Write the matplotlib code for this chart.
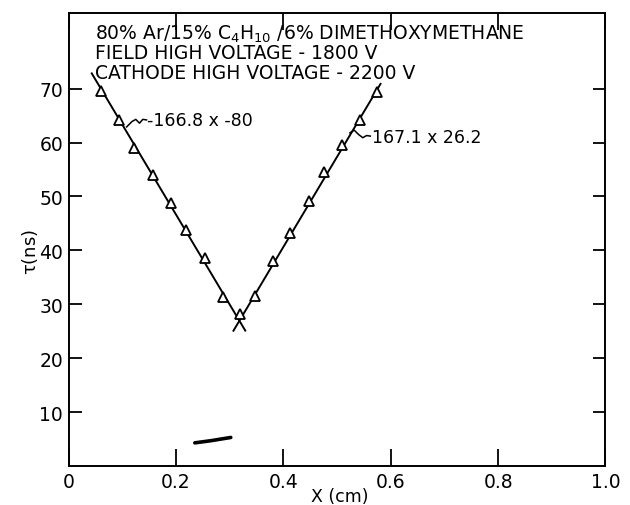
import numpy as np
import matplotlib
matplotlib.use("Agg")
import matplotlib.pyplot as plt

# measured drift times, left and right of the wire
x_left = [0.060, 0.093, 0.122, 0.158, 0.190, 0.219, 0.254, 0.287, 0.319]
tau_left = [69.6, 64.2, 59.0, 53.9, 48.7, 43.7, 38.6, 31.3, 28.2]
x_right = [0.348, 0.380, 0.413, 0.447, 0.476, 0.509, 0.542, 0.575]
tau_right = [31.6, 38.0, 43.3, 49.2, 54.5, 59.5, 64.1, 69.4]

# fitted lines: tau = slope * x + offset
fit_left = (-166.8, 80.0)
fit_right = (167.1, -26.2)
fit_left_range = [0.043, 0.329]
fit_right_range = [0.307, 0.581]

header = [r"80% Ar/15% C$_{\mathregular{4}}$H$_{\mathregular{10}}$ /6% DIMETHOXYMETHANE",
          "FIELD HIGH VOLTAGE - 1800 V",
          "CATHODE HIGH VOLTAGE - 2200 V"]

xticks = [0, 0.2, 0.4, 0.6, 0.8, 1.0]
xticklabels = ["0", "0.2", "0.4", "0.6", "0.8", "1.0"]
yticks = [10, 20, 30, 40, 50, 60, 70]

plt.rcParams["font.family"] = "DejaVu Sans"
plt.rcParams["mathtext.default"] = "regular"

fig = plt.figure(figsize=(6.3, 5.06), dpi=100)
ax = fig.add_axes([0.109, 0.077, 0.852, 0.895])
ax.set_xlim(0, 1.0)
ax.set_ylim(0, 84)

for (m, b), rng in [(fit_left, fit_left_range), (fit_right, fit_right_range)]:
    xx = np.array(rng)
    ax.plot(xx, m * xx + b, color="black", lw=1.4)

ax.plot(x_left, tau_left, ls="none", marker="^", ms=6.5, mfc="white",
        mec="black", mew=1.3)
ax.plot(x_right, tau_right, ls="none", marker="^", ms=6.5, mfc="white",
        mec="black", mew=1.3)

# labels for the fits with little squiggly leaders
ax.text(0.145, 64.1, "-166.8 x -80", fontsize=12.5, va="center", ha="left")
ax.plot([0.108, 0.118, 0.125, 0.132, 0.138, 0.145],
        [62.9, 63.9, 64.3, 63.6, 64.3, 64.2], color="black", lw=1.1)
ax.text(0.565, 61.1, "167.1 x 26.2", fontsize=12.5, va="center", ha="left")
ax.plot([0.524, 0.532, 0.540, 0.548, 0.555, 0.562],
        [61.8, 62.3, 61.5, 60.9, 61.3, 61.2], color="black", lw=1.1)

# scan smudge near the bottom
ax.plot([0.235, 0.265, 0.302], [4.3, 4.7, 5.3], color="black", lw=2.6,
        solid_capstyle="round")

header_y = [0.956, 0.913, 0.870]
for line, yy in zip(header, header_y):
    ax.text(0.049, yy, line, transform=ax.transAxes,
            fontsize=13.5, va="center", ha="left")

ax.set_xticks(xticks)
ax.set_xticklabels(xticklabels)
ax.set_yticks(yticks)
ax.tick_params(axis="both", direction="in", labelsize=13.5, width=1.3, pad=4)
ax.tick_params(axis="y", length=9, right=True)
ax.tick_params(axis="x", length=12, top=True)

for s in ax.spines.values():
    s.set_linewidth(1.4)

ax.set_xlabel("X (cm)", fontsize=12.5, va="center")
ax.xaxis.set_label_coords(0.505, -0.066)
ax.set_ylabel(r"$\tau$(ns)", fontsize=13, va="center")
ax.yaxis.set_label_coords(-0.072, 0.475)

fig.savefig("out.png", dpi=100)
